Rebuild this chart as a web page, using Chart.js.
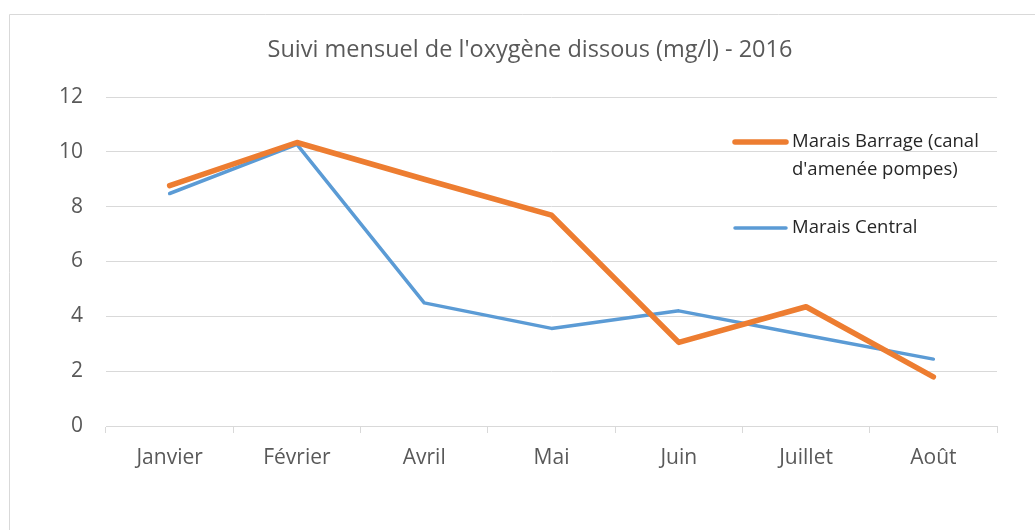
<!DOCTYPE html>
<html>
<head>
<meta charset="utf-8">
<script src="https://cdn.jsdelivr.net/npm/chart.js@4.4.0/dist/chart.umd.min.js"></script>
<style>
    html, body { margin: 0; padding: 0; background: #fff; }
    #wrap { position: relative; width: 1035px; height: 530px; }
</style>
</head>
<body>
<div id="wrap"><canvas id="chart" width="1035" height="530"></canvas></div>
<script>
// Données
const months = ['Janvier', 'Février', 'Avril', 'Mai', 'Juin', 'Juillet', 'Août'];
const barrage = [8.77, 10.34, 9.0, 7.69, 3.05, 4.35, 1.79];
const central = [8.48, 10.27, 4.49, 3.56, 4.2, 3.31, 2.44];
const seriesLegend = [["Marais Barrage (canal", "d'amenée pompes)"], ["Marais Central"]];
const yTicks = [0, 2, 4, 6, 8, 10, 12];
const chartTitle = "Suivi mensuel de l'oxygène dissous (mg/l) - 2016";

const FONT = "'Open Sans', 'DejaVu Sans', sans-serif";
const gridColor = '#d9d9d9';
const textGrey = '#595959';

// Titre + légende + cadre dessinés à la main (positions façon Excel)
const decorPlugin = {
    id: 'decor',
    afterDraw(chart) {
        const ctx = chart.ctx;
        ctx.save();
        // cadre (haut / gauche)
        ctx.strokeStyle = gridColor;
        ctx.lineWidth = 1;
        ctx.beginPath();
        ctx.moveTo(9.5, 530);
        ctx.lineTo(9.5, 14.5);
        ctx.lineTo(1035, 14.5);
        ctx.stroke();

        // titre
        ctx.fillStyle = textGrey;
        ctx.font = '23.5px ' + FONT;
        ctx.textAlign = 'center';
        ctx.textBaseline = 'middle';
        ctx.fillText(chartTitle, 530, 50);

        // légende
        const rows = [142, 228];
        ctx.font = '18.5px ' + FONT;
        ctx.textAlign = 'left';
        chart.data.datasets.forEach((ds, i) => {
            const y = rows[i];
            ctx.strokeStyle = ds.borderColor;
            ctx.lineWidth = ds.borderWidth;
            ctx.lineCap = 'round';
            ctx.beginPath();
            ctx.moveTo(735, y);
            ctx.lineTo(786, y);
            ctx.stroke();
            ctx.fillStyle = '#262626';
            seriesLegend[i].forEach((line, k) => {
                ctx.fillText(line, 792, y + k * 27.5);
            });
        });
        ctx.restore();
    }
};

new Chart(document.getElementById('chart'), {
    type: 'line',
    data: {
        labels: months,
        datasets: [
            {
                label: seriesLegend[0].join(' '),
                data: barrage,
                borderColor: '#ED7D31',
                borderWidth: 5.5,
                borderCapStyle: 'round',
                borderJoinStyle: 'round',
                pointRadius: 0,
                tension: 0
            },
            {
                label: seriesLegend[1].join(' '),
                data: central,
                borderColor: '#5B9BD5',
                borderWidth: 3.5,
                borderCapStyle: 'round',
                borderJoinStyle: 'round',
                pointRadius: 0,
                tension: 0
            }
        ]
    },
    options: {
        responsive: false,
        animation: false,
        layout: { padding: { left: 0, right: 38, top: 97, bottom: 0 } },
        plugins: {
            legend: { display: false },
            title: { display: false },
            tooltip: { enabled: false }
        },
        scales: {
            x: {
                offset: true,
                grid: { offset: true, drawOnChartArea: false, tickLength: 7, color: gridColor },
                border: { color: gridColor },
                ticks: { color: textGrey, font: { family: FONT, size: 21 }, padding: 12, maxRotation: 0 },
                afterFit: s => { s.height = 104; }
            },
            y: {
                min: 0,
                max: 12,
                afterBuildTicks: s => { s.ticks = yTicks.map(v => ({ value: v })); },
                grid: { drawTicks: false, color: gridColor },
                border: { display: false },
                ticks: { color: textGrey, font: { family: FONT, size: 21 }, padding: 23 },
                afterFit: s => { s.width = 106; }
            }
        }
    },
    plugins: [decorPlugin]
});
</script>
</body>
</html>
